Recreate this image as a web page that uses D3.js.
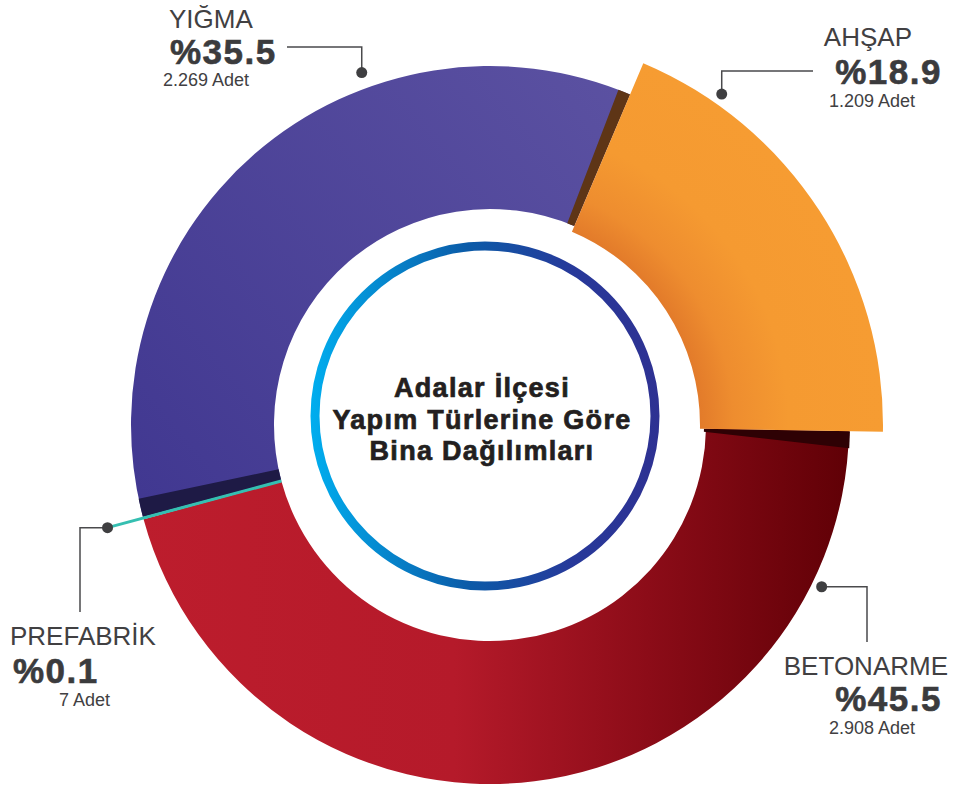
<!DOCTYPE html>
<html>
<head>
<meta charset="utf-8">
<script src="https://cdn.jsdelivr.net/npm/d3@7"></script>
<style>
  body { margin: 0; background: #fff; }
  svg { display: block; font-family: "Liberation Sans", Arial, sans-serif; }
</style>
</head>
<body>
<svg id="chart" width="955" height="790"></svg>
<script>
// data
var categories = ["BETONARME", "PREFABRİK", "YIĞMA", "AHŞAP"];
var percents = [45.5, 0.1, 35.5, 18.9];
var counts = ["2.908", "7", "2.269", "1.209"];
var title = ["Adalar İlçesi", "Yapım Türlerine Göre", "Bina Dağılımları"];

var svg = d3.select("#chart");
var cx = 490, cy = 425;
var rIn = 216, rOut = 359;
var deg = Math.PI / 180;

var defs = svg.append("defs");

// gradients (coords are local to the translated group)
var gRed = defs.append("linearGradient").attr("id", "gRed")
    .attr("gradientUnits", "userSpaceOnUse")
    .attr("x1", -rOut).attr("y1", 0).attr("x2", rOut).attr("y2", 0);
gRed.append("stop").attr("offset", 0).attr("stop-color", "#bd1d2d");
gRed.append("stop").attr("offset", 0.45).attr("stop-color", "#b51a2a");
gRed.append("stop").attr("offset", 0.72).attr("stop-color", "#8c0c18");
gRed.append("stop").attr("offset", 1).attr("stop-color", "#600006");

var gPur = defs.append("linearGradient").attr("id", "gPur")
    .attr("gradientUnits", "userSpaceOnUse")
    .attr("x1", -rOut).attr("y1", 60).attr("x2", 150).attr("y2", -rOut);
gPur.append("stop").attr("offset", 0).attr("stop-color", "#413891");
gPur.append("stop").attr("offset", 1).attr("stop-color", "#5c52a2");

var gOr = defs.append("radialGradient").attr("id", "gOr")
    .attr("gradientUnits", "userSpaceOnUse")
    .attr("cx", 0).attr("cy", 0).attr("r", 393);
gOr.append("stop").attr("offset", 0.53).attr("stop-color", "#e27a2a");
gOr.append("stop").attr("offset", 0.62).attr("stop-color", "#ee8d2f");
gOr.append("stop").attr("offset", 0.76).attr("stop-color", "#f59a31");
gOr.append("stop").attr("offset", 1).attr("stop-color", "#f69c32");

var gRing = defs.append("linearGradient").attr("id", "gRing")
    .attr("gradientUnits", "userSpaceOnUse")
    .attr("x1", 310).attr("y1", 0).attr("x2", 660).attr("y2", 0);
gRing.append("stop").attr("offset", 0).attr("stop-color", "#00aeef");
gRing.append("stop").attr("offset", 0.45).attr("stop-color", "#0b5ba8");
gRing.append("stop").attr("offset", 0.75).attr("stop-color", "#27399a");
gRing.append("stop").attr("offset", 1).attr("stop-color", "#2e3192");

var fills = ["url(#gRed)", "#35bfb1", "url(#gPur)", "url(#gOr)"];

var pie = d3.pie().sort(null)
    .startAngle(91 * deg).endAngle(451 * deg);
var slices = pie(percents);

var arc = d3.arc().innerRadius(rIn).outerRadius(rOut);
var arcBig = d3.arc().innerRadius(210).outerRadius(393);

var g = svg.append("g").attr("transform", "translate(" + cx + "," + cy + ")");

function polar(r, a) {
    return [r * Math.sin(a), -r * Math.cos(a)];
}

// main slices (ahşap is drawn bigger, later)
g.selectAll("path.slice").data(slices.filter(function (d, i) { return i == 0 || i == 2; }))
    .enter().append("path").attr("class", "slice")
    .attr("d", arc)
    .attr("fill", function (d) { return fills[d.index]; });

var betonarme = slices[0], prefab = slices[1], yigma = slices[2], ahsap = slices[3];

// dark band on yığma next to prefabrik
g.append("path")
    .attr("d", arc({ startAngle: prefab.endAngle, endAngle: prefab.endAngle + 3 * deg }))
    .attr("fill", "#1e1a45");

// shadow under ahşap on yığma side
g.append("path")
    .attr("d", arc({ startAngle: ahsap.startAngle - 2 * deg, endAngle: ahsap.startAngle }))
    .attr("fill", "#5e3516");

// shadow under ahşap on betonarme side
var a = ahsap.endAngle;
var pts = [polar(rIn - 2, a), polar(rOut + 1, a), polar(rOut + 1, a + 2.7 * deg), polar(rIn - 2, a + 0.8 * deg)];
g.append("path")
    .attr("d", d3.line()(pts) + "Z")
    .attr("fill", "#2e0104");

// ahşap slice
g.append("path")
    .attr("d", arcBig(ahsap))
    .attr("fill", fills[3]);

// prefabrik slice + teal line out to the dot
var pa = (prefab.startAngle + prefab.endAngle) / 2;
g.append("path").attr("d", arc(prefab)).attr("fill", fills[1]);
var dotP = polar(396, pa);
g.append("line")
    .attr("x1", polar(rIn, pa)[0]).attr("y1", polar(rIn, pa)[1])
    .attr("x2", dotP[0]).attr("y2", dotP[1])
    .attr("stroke", "#35bfb1").attr("stroke-width", 3);

// center ring + title
svg.append("circle")
    .attr("cx", 485).attr("cy", 416).attr("r", 170)
    .attr("fill", "#fff")
    .attr("stroke", "url(#gRing)").attr("stroke-width", 9);

svg.append("g").selectAll("text").data(title).enter().append("text")
    .attr("x", 482)
    .attr("y", function (d, i) { return 397 + i * 31.5; })
    .attr("text-anchor", "middle")
    .attr("font-size", 27)
    .attr("font-weight", "bold")
    .attr("letter-spacing", 1.3)
    .attr("fill", "#231f20")
    .attr("stroke", "#231f20").attr("stroke-width", 0.7)
    .text(function (d) { return d; });

// labels
var lineCol = "#4a4a4c", textCol = "#414042", boldCol = "#3b3b3d";

function dot(x, y) {
    svg.append("circle").attr("cx", x).attr("cy", y).attr("r", 5.5).attr("fill", "#3f3f41");
}
function leader(points) {
    svg.append("path")
        .attr("d", d3.line()(points))
        .attr("fill", "none")
        .attr("stroke", lineCol).attr("stroke-width", 1.5);
}
function label(i, x, anchor, y1, y2, y3) {
    svg.append("text").attr("x", x[0]).attr("y", y1).attr("text-anchor", anchor)
        .attr("font-size", 26).attr("fill", textCol).text(categories[i]);
    svg.append("text").attr("x", x[1]).attr("y", y2).attr("text-anchor", anchor)
        .attr("font-size", 35).attr("font-weight", "bold").attr("letter-spacing", 1.5)
        .attr("fill", boldCol).attr("stroke", boldCol).attr("stroke-width", 0.6)
        .text("%" + percents[i]);
    svg.append("text").attr("x", x[2]).attr("y", y3).attr("text-anchor", anchor)
        .attr("font-size", 18).attr("fill", textCol).text(counts[i] + " Adet");
}

// yığma
var pY = polar(375, 340 * deg);
leader([[287, 47], [pY[0] + cx, 47], [pY[0] + cx, pY[1] + cy]]);
dot(pY[0] + cx, pY[1] + cy);
label(2, [169, 170, 163], "start", 28, 64, 86);

// ahşap
var pA = polar(404, 35 * deg);
leader([[pA[0] + cx, pA[1] + cy], [pA[0] + cx, 71], [813, 71]]);
dot(pA[0] + cx, pA[1] + cy);
label(3, [912, 942, 915], "end", 46, 84, 107);

// betonarme
var pB = polar(369, 116 * deg);
leader([[pB[0] + cx, pB[1] + cy], [867, pB[1] + cy], [867, 642]]);
dot(pB[0] + cx, pB[1] + cy);
label(0, [948, 942, 915], "end", 675, 711, 734);

// prefabrik
var px = dotP[0] + cx, py = dotP[1] + cy;
leader([[px, py], [80, py], [80, 612]]);
dot(px, py);
label(1, [10, 13, 110], "start", 645, 683, 706);
svg.selectAll("text").filter(function () { return d3.select(this).text() == "7 Adet"; })
    .attr("text-anchor", "end");
</script>
</body>
</html>
